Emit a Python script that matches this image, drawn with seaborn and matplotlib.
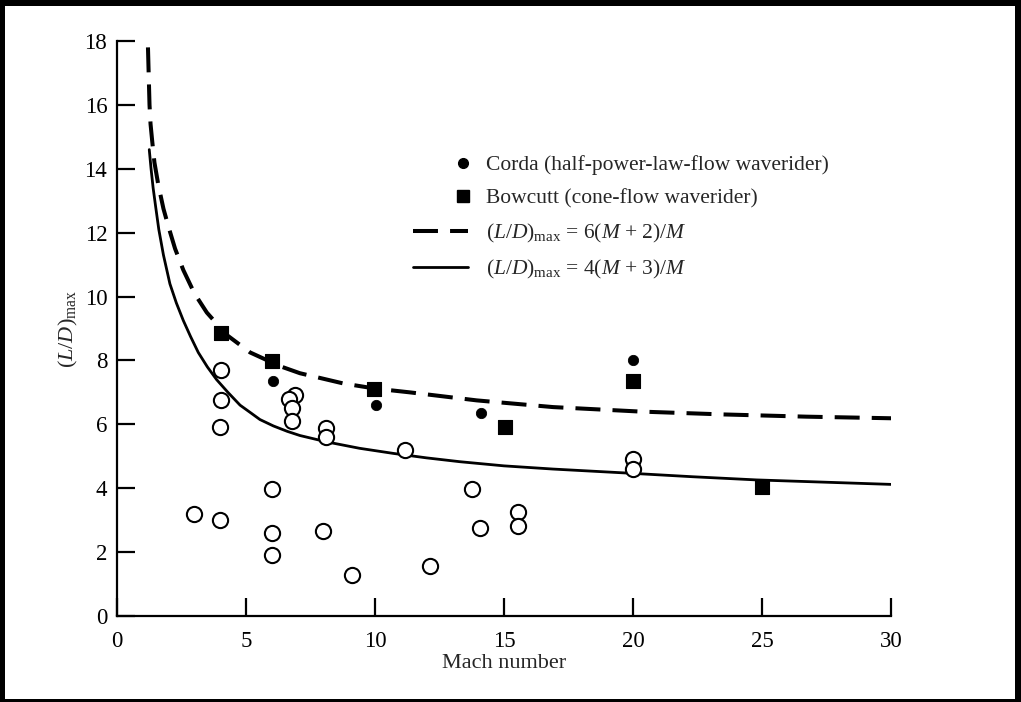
import numpy as np
import pandas as pd
import matplotlib
matplotlib.use("Agg")
import matplotlib.pyplot as plt
import seaborn as sns
from matplotlib.lines import Line2D
from matplotlib.legend_handler import HandlerLine2D
from matplotlib.patches import Rectangle

# dane
mach_open = [3.0, 4.0, 4.05, 4.05, 4.0, 6.0, 6.0, 6.0, 6.9, 6.65, 6.8, 6.8, 8.1, 8.1,
             8.0, 9.1, 11.15, 12.15, 13.75, 14.05, 15.55, 15.55, 20.0, 20.0]
ld_open = [3.2, 3.0, 7.7, 6.75, 5.93, 3.97, 2.6, 1.9, 6.92, 6.78, 6.5, 6.12, 5.9, 5.6,
           2.67, 1.28, 5.2, 1.57, 3.97, 2.77, 3.27, 2.83, 4.92, 4.59]

mach_corda = [6.05, 10.05, 14.1, 20.0]
ld_corda = [7.35, 6.6, 6.35, 8.0]

mach_bowcutt = [4.05, 6.0, 9.95, 15.05, 20.0, 25.0]
ld_bowcutt = [8.85, 7.97, 7.1, 5.93, 7.35, 4.05]

# krzywe odczytane punkt po punkcie z rysunku
mach_dash = [1.2, 1.23, 1.26, 1.3, 1.36, 1.45, 1.6, 1.8, 1.99, 2.25, 2.57, 3.0, 3.48,
             4.25, 5.16, 6.32, 7.09, 8.77, 10.0, 11.36, 13.94, 16.9, 20.27, 23.5, 26.73, 30.0]
ld_dash = [17.8, 16.9, 16.0, 15.4, 14.9, 14.2, 13.5, 12.75, 12.2, 11.5, 10.83, 10.1, 9.5,
           8.8, 8.25, 7.82, 7.6, 7.28, 7.12, 7.0, 6.75, 6.54, 6.4, 6.31, 6.24, 6.19]

mach_solid = [1.25, 1.32, 1.4, 1.5, 1.62, 1.8, 2.05, 2.3, 2.57, 2.85, 3.15, 3.5, 3.86,
              4.3, 4.77, 5.2, 5.54, 6.06, 6.6, 7.09, 8.13, 9.4, 10.71, 12.0, 13.29, 15.0,
              16.9, 19.88, 22.3, 24.79, 27.4, 30.0]
ld_solid = [14.6, 14.0, 13.4, 12.8, 12.1, 11.3, 10.4, 9.8, 9.25, 8.75, 8.25, 7.8, 7.4,
            7.0, 6.6, 6.35, 6.15, 5.95, 5.78, 5.65, 5.45, 5.25, 5.09, 4.95, 4.83, 4.7,
            4.6, 4.47, 4.36, 4.26, 4.19, 4.12]

x_ticks = [0, 5, 10, 15, 20, 25, 30]
y_ticks = [0, 2, 4, 6, 8, 10, 12, 14, 16, 18]

sns.set_theme(style="ticks")
plt.rcParams["font.family"] = ["Liberation Serif", "DejaVu Serif"]
plt.rcParams["mathtext.fontset"] = "custom"
plt.rcParams["mathtext.rm"] = "Liberation Serif"
plt.rcParams["mathtext.it"] = "Liberation Serif:italic"

fig = plt.figure(figsize=(10.21, 7.02), dpi=100)
ax = fig.add_axes([0.1146, 0.1225, 0.7581, 0.8191])

dash_style = (0, (6.2, 3.0))
sns.lineplot(x=mach_dash, y=ld_dash, ax=ax, color="black", lw=2.9,
             linestyle=dash_style, sort=False, estimator=None)
sns.lineplot(x=mach_solid, y=ld_solid, ax=ax, color="black", lw=2.0,
             sort=False, estimator=None)

sns.scatterplot(x=mach_open, y=ld_open, ax=ax, marker="o", s=120,
                facecolor="white", edgecolor="black", linewidth=1.5, zorder=3)
sns.scatterplot(x=mach_corda, y=ld_corda, ax=ax, marker="o", s=55,
                color="black", edgecolor="black", zorder=4)
sns.scatterplot(x=mach_bowcutt, y=ld_bowcutt, ax=ax, marker="s", s=100,
                color="black", edgecolor="black", zorder=4)

ax.set_xlim(0, 30)
ax.set_ylim(0, 18)
ax.set_xticks(x_ticks)
ax.set_yticks(y_ticks)
sns.despine(ax=ax)
for s in ["left", "bottom"]:
    ax.spines[s].set_linewidth(1.6)
    ax.spines[s].set_color("black")
ax.tick_params(direction="in", length=13, width=1.6, colors="black", labelsize=16.5)
ax.tick_params(axis="x", pad=11)
ax.tick_params(axis="y", pad=7)
ax.set_xlabel("Mach number", fontsize=16, labelpad=1)
ax.set_ylabel(r"$(L/D)_{\rm max}$", fontsize=16, labelpad=3)


class RightMarker(HandlerLine2D):
    # przesuwa znacznik w prawo w legendzie
    def create_artists(self, legend, orig_handle, xdescent, ydescent, width, height, fontsize, trans):
        return super().create_artists(legend, orig_handle, xdescent - width * 0.4, ydescent,
                                      width, height, fontsize, trans)


h_corda = Line2D([], [], marker="o", ls="none", color="black", markersize=7)
h_bow = Line2D([], [], marker="s", ls="none", color="black", markersize=9)
h_dash = Line2D([], [], color="black", lw=2.9, linestyle=dash_style)
h_solid = Line2D([], [], color="black", lw=2.0)
leg = ax.legend([h_corda, h_bow, h_dash, h_solid],
                ["Corda (half-power-law-flow waverider)",
                 "Bowcutt (cone-flow waverider)",
                 r"$(L/D)_{\rm max}$ = 6($M$ + 2)/$M$",
                 r"$(L/D)_{\rm max}$ = 4($M$ + 3)/$M$"],
                handler_map={h_corda: RightMarker(), h_bow: RightMarker()},
                loc="upper left", bbox_to_anchor=(0.358, 0.835), frameon=False,
                fontsize=15.5, handlelength=2.55, handletextpad=0.8, labelspacing=0.62)

# czarna ramka wokół obrazka
for r in [(0, 1 - 6 / 702, 1, 6 / 702), (0, 0, 5 / 1021, 1),
          (0, 0, 1, 3 / 702), (1 - 6 / 1021, 0, 6 / 1021, 1)]:
    fig.add_artist(Rectangle((r[0], r[1]), r[2], r[3], transform=fig.transFigure,
                             color="black", lw=0))

fig.savefig("out.png", dpi=100)
